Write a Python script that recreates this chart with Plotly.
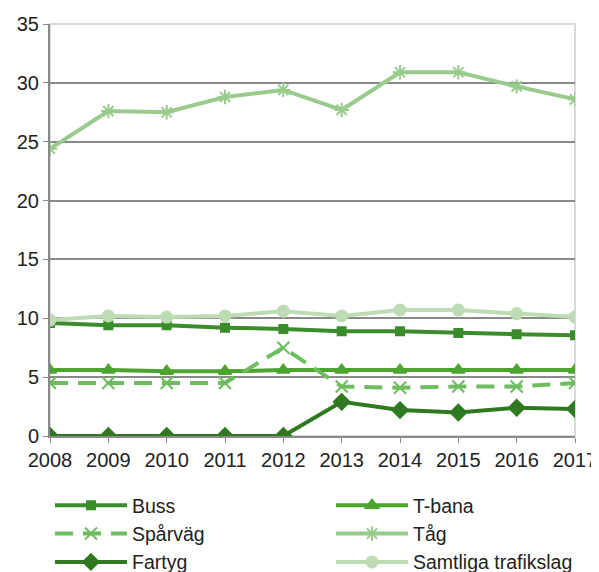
import plotly.graph_objects as go

years = [2008, 2009, 2010, 2011, 2012, 2013, 2014, 2015, 2016, 2017]
buss = [9.6, 9.4, 9.4, 9.2, 9.1, 8.9, 8.9, 8.75, 8.65, 8.55]
tbana = [5.6, 5.6, 5.5, 5.5, 5.6, 5.6, 5.6, 5.6, 5.6, 5.6]
sparvag = [4.5, 4.5, 4.5, 4.5, 7.5, 4.2, 4.1, 4.2, 4.2, 4.5]
tag = [24.4, 27.6, 27.5, 28.8, 29.4, 27.7, 30.9, 30.9, 29.7, 28.6]
fartyg = [0, 0, 0, 0, 0, 2.9, 2.2, 2.0, 2.4, 2.3]
samtliga = [9.85, 10.2, 10.1, 10.2, 10.6, 10.2, 10.7, 10.7, 10.4, 10.1]
y_ticks = [0, 5, 10, 15, 20, 25, 30, 35]
grid_ticks = [5, 10, 15, 20, 25, 30]

series = [
    ("Buss", buss, "#3b8c2b", "square", 8, "solid"),
    ("T-bana", tbana, "#4ba52f", "triangle-up", 11, "solid"),
    ("Spårväg", sparvag, "#6dbd5e", "x-thin-open", 12, "18px,10px"),
    ("Tåg", tag, "#98cb8c", "asterisk-open", 12, "solid"),
    ("Fartyg", fartyg, "#2f7a20", "diamond", 12, "solid"),
    ("Samtliga trafikslag", samtliga, "#bedcb3", "circle", 11, "solid"),
]

W, H = 591, 564
TOP = 16
PL, PR, PB = 42, 567, 428  # plot area edges in figure pixels
xdom = [PL / W, PR / W]
ydom = [(H - PB) / (H - TOP), 1]

fig = go.Figure()
fig.add_trace(go.Scatter(x=[2008], y=[0], yaxis="y2", showlegend=False,
                         mode="markers", marker=dict(opacity=0), hoverinfo="skip"))
for name, vals, col, sym, sz, dash in series:
    fig.add_trace(go.Scatter(
        x=years, y=vals, name=name, mode="lines+markers",
        line=dict(color=col, width=4, dash=dash),
        marker=dict(symbol=sym, size=sz, color=col, line=dict(color=col, width=2)),
    ))

fam = "Liberation Sans, Arial, sans-serif"
font = dict(family=fam, size=20, color="#222222")
fig.update_layout(
    width=W, height=H,
    margin=dict(l=0, r=0, t=TOP, b=0, autoexpand=False),
    paper_bgcolor="white", plot_bgcolor="white",
    font=font,
    showlegend=True,
    legend=dict(
        orientation="h", x=PL / W, xref="paper", xanchor="left",
        y=(H - 478) / (H - TOP), yref="paper", yanchor="top",
        entrywidth=194, entrywidthmode="pixels", traceorder="normal",
        font=dict(family=fam, size=19.5, color="#222222"),
        itemwidth=72, tracegroupgap=0, bgcolor="rgba(0,0,0,0)",
    ),
    xaxis=dict(
        domain=xdom,
        range=[2008, 2017], tickvals=years, ticktext=[str(y) for y in years],
        showgrid=False, showline=True, linecolor="#8a8a8a", linewidth=2,
        ticks="outside", ticklen=5, tickcolor="#8a8a8a", tickwidth=1,
        zeroline=False, mirror=False, automargin=False,
    ),
    yaxis=dict(
        domain=ydom,
        range=[0, 35], tickvals=y_ticks, showgrid=False,
        showline=True, linecolor="#8a8a8a", linewidth=2,
        ticks="outside", ticklen=5, tickcolor="#8a8a8a",
        zeroline=False, automargin=False,
    ),
    yaxis2=dict(
        domain=ydom,
        range=[0, 35], overlaying="y", tickvals=grid_ticks, showgrid=True,
        gridcolor="#8a8a8a", gridwidth=2, showticklabels=False, showline=False,
        zeroline=False, side="left",
    ),
    shapes=[dict(type="rect", xref="x domain", yref="y domain", x0=0, x1=1, y0=0, y1=1,
                 line=dict(color="#d9d9d9", width=2), layer="below")],
)
fig.write_html("out.html")
